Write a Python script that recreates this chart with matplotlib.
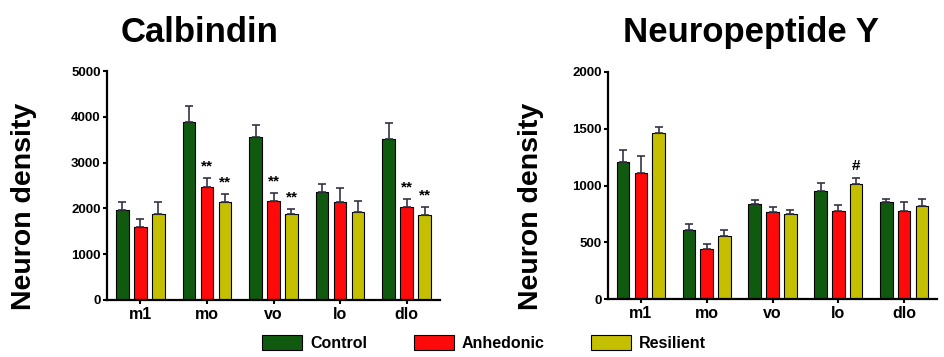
import numpy as np
import matplotlib.pyplot as plt
from matplotlib.patches import Patch

plt.rcParams['font.family'] = ['Liberation Sans', 'DejaVu Sans']
plt.rcParams['font.weight'] = 'bold'

regions = ['m1', 'mo', 'vo', 'lo', 'dlo']
groups = ['Control', 'Anhedonic', 'Resilient']
colors = ['#0f5a0f', '#ff0a0a', '#c4c000']

# Calbindin: means and upper error (SEM)
calb_mean = {
    'Control':   [1970, 3890, 3550, 2360, 3520],
    'Anhedonic': [1600, 2470, 2170, 2150, 2020],
    'Resilient': [1880, 2150, 1880, 1930, 1860],
}
calb_err = {
    'Control':   [180, 340, 280, 170, 350],
    'Anhedonic': [160, 200, 170, 290, 190],
    'Resilient': [270, 160, 100, 230, 160],
}
calb_marks = {('Anhedonic', 1): '**', ('Resilient', 1): '**',
              ('Anhedonic', 2): '**', ('Resilient', 2): '**',
              ('Anhedonic', 4): '**', ('Resilient', 4): '**'}

# Neuropeptide Y
npy_mean = {
    'Control':   [1210, 609, 835, 952, 852],
    'Anhedonic': [1107, 442, 765, 773, 779],
    'Resilient': [1459, 559, 747, 1013, 820],
}
npy_err = {
    'Control':   [103, 52, 35, 73, 29],
    'Anhedonic': [152, 41, 43, 56, 76],
    'Resilient': [58, 50, 38, 56, 64],
}
npy_marks = {('Resilient', 3): '#'}

fig = plt.figure(figsize=(9.44, 3.57), dpi=100)
W, H = 944, 357


def panel(rect, title, title_x, ylab_x, means, errs, marks, ymax, step):
    ax = fig.add_axes([rect[0] / W, 1 - rect[3] / H, (rect[2] - rect[0]) / W,
                       (rect[3] - rect[1]) / H])
    x = np.arange(len(regions))
    width = 0.19
    offs = [-0.27, 0.0, 0.27]
    for g, c, o in zip(groups, colors, offs):
        ax.bar(x + o, means[g], width, color=c, edgecolor='black', linewidth=0.8,
               yerr=[np.zeros(len(regions)), errs[g]], capsize=3,
               error_kw=dict(ecolor='#333344', elinewidth=1.2, capthick=1.2))
    for (g, i), txt in marks.items():
        k = groups.index(g)
        y = means[g][i] + errs[g][i] + ymax * 0.02
        ax.text(i + offs[k], y, txt, ha='center', va='bottom', fontsize=11,
                fontweight='bold')
    ax.set_xlim(-0.5, len(regions) - 0.5)
    ax.set_ylim(0, ymax)
    ax.set_yticks(np.arange(0, ymax + 1, step))
    ax.set_xticks(x)
    ax.set_xticklabels(regions, fontsize=11.5, fontweight='bold')
    ax.tick_params(axis='y', labelsize=9.5, width=1.5, length=3, pad=1.5)
    ax.tick_params(axis='x', width=1.5, length=3, pad=2)
    for lab in ax.get_yticklabels():
        lab.set_fontweight('bold')
    for s in ['top', 'right']:
        ax.spines[s].set_visible(False)
    for s in ['left', 'bottom']:
        ax.spines[s].set_linewidth(1.6)
    fig.text(ylab_x / W, 1 - 206 / H, 'Neuron density', rotation=90,
             ha='center', va='center', fontsize=20.5, fontweight='bold')
    fig.text(title_x / W, 1 - 42 / H, title, ha='center', va='baseline',
             fontsize=25, fontweight='bold')
    return ax


panel((107, 71, 440, 300), 'Calbindin', 200, 24,
      calb_mean, calb_err, calb_marks, 5000, 1000)
panel((608, 72, 937, 299), 'Neuropeptide Y', 751, 531,
      npy_mean, npy_err, npy_marks, 2000, 500)

handles = [Patch(facecolor=c, edgecolor='black', linewidth=0.8, label=g)
           for g, c in zip(groups, colors)]
fig.legend(handles=handles, loc='center', bbox_to_anchor=(484 / W, 1 - 343 / H),
           ncol=3, frameon=False, fontsize=11.5, handlelength=2.5, handleheight=1.1,
           columnspacing=2.9, handletextpad=0.5)

fig.savefig('out.png', dpi=100)
